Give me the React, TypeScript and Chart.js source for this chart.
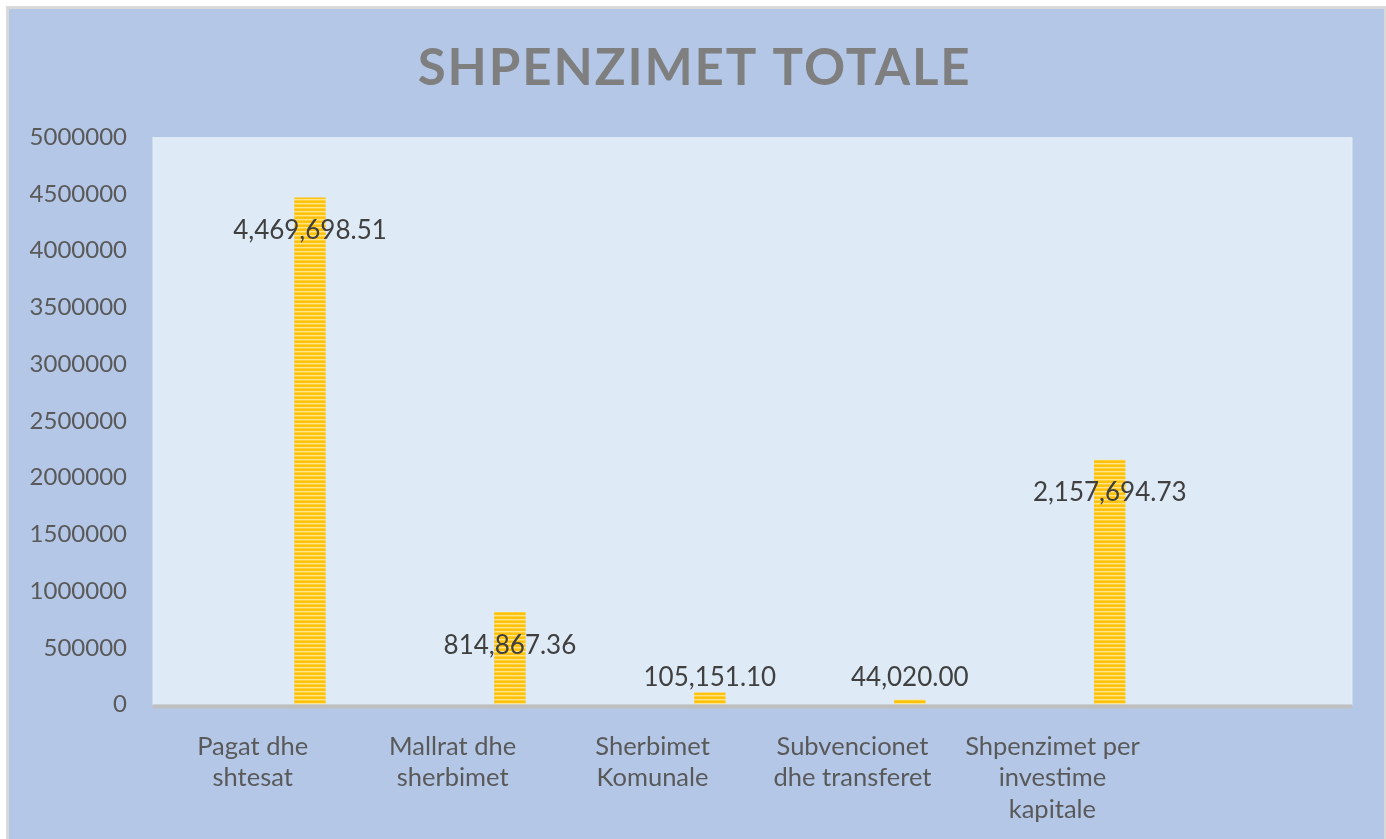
import React, { useEffect, useRef } from 'react';
import { Chart, registerables } from 'chart.js';

Chart.register(...registerables);

const chartTitle = 'SHPENZIMET TOTALE';
const categories: (string | string[])[] = [
  ['Pagat dhe', 'shtesat'],
  ['Mallrat dhe', 'sherbimet'],
  ['Sherbimet', 'Komunale'],
  ['Subvencionet', 'dhe transferet'],
  ['Shpenzimet per', 'investime', 'kapitale'],
  '',
];
const totals: (number | null)[] = [4469698.51, 814867.36, 105151.1, 44020.0, 2157694.73, null];
const emptySeries: (number | null)[] = [null, null, null, null, null, null];
const yMin = 0;
const yMax = 5000000;
const yStep = 500000;

const FONT = 'Lato, "Open Sans", sans-serif';

function makePattern(): CanvasPattern | string {
  const pc = document.createElement('canvas');
  pc.width = 4;
  pc.height = 4;
  const c = pc.getContext('2d');
  if (!c) return '#FFC000';
  const rows = ['#FFC000', '#FFC40F', '#FFE38C', '#FFD040'];
  rows.forEach((col, i) => {
    c.fillStyle = col;
    c.fillRect(0, i, 4, 1);
  });
  const p = c.createPattern(pc, 'repeat');
  return p || '#FFC000';
}

const plotBackground = {
  id: 'plotBackground',
  beforeDatasetsDraw(chart: any) {
    const { ctx, chartArea } = chart;
    ctx.save();
    ctx.fillStyle = '#DEEAF6';
    ctx.fillRect(chartArea.left, chartArea.top, chartArea.right - chartArea.left, chartArea.bottom - chartArea.top);
    ctx.strokeStyle = '#E3EDF8';
    ctx.lineWidth = 1;
    ctx.strokeRect(chartArea.left + 0.5, chartArea.top + 0.5, chartArea.right - chartArea.left - 1, chartArea.bottom - chartArea.top);
    ctx.restore();
  },
  afterDatasetsDraw(chart: any) {
    const { ctx, chartArea } = chart;
    ctx.save();
    ctx.fillStyle = '#BFBFBF';
    ctx.fillRect(chartArea.left, chartArea.bottom, chartArea.right - chartArea.left, 4);
    ctx.restore();
  },
};

const valueLabels = {
  id: 'valueLabels',
  afterDatasetsDraw(chart: any) {
    const { ctx, chartArea } = chart;
    const meta = chart.getDatasetMeta(2);
    const ds = chart.data.datasets[2].data as (number | null)[];
    ctx.save();
    ctx.font = `26px ${FONT}`;
    ctx.fillStyle = '#404040';
    ctx.textAlign = 'center';
    ctx.textBaseline = 'alphabetic';
    meta.data.forEach((bar: any, i: number) => {
      const v = ds[i];
      if (v === null || v === undefined) return;
      const txt = v.toLocaleString('en-US', { minimumFractionDigits: 2, maximumFractionDigits: 2 });
      const y = Math.min(bar.y + 41.5, chartArea.bottom - 18.5);
      ctx.fillText(txt, bar.x, y);
    });
    ctx.restore();
  },
};

const titleDraw = {
  id: 'titleDraw',
  afterDraw(chart: any) {
    const { ctx } = chart;
    ctx.save();
    ctx.font = `bold 51px ${FONT}`;
    ctx.fillStyle = '#7F7F7F';
    ctx.textAlign = 'left';
    ctx.textBaseline = 'alphabetic';
    (ctx as any).letterSpacing = '0px';
    const w = ctx.measureText(chartTitle).width;
    const sp = (552 - w) / (chartTitle.length - 1);
    (ctx as any).letterSpacing = `${sp}px`;
    ctx.fillText(chartTitle, 408.7, 76);
    ctx.restore();
  },
};

export default function App() {
  const ref = useRef<HTMLCanvasElement | null>(null);

  useEffect(() => {
    if (!ref.current) return;
    const pattern = makePattern();
    const chart = new Chart(ref.current, {
      type: 'bar',
      data: {
        labels: categories,
        datasets: [
          { label: 'a', data: emptySeries },
          { label: 'b', data: emptySeries },
          { label: 'Shpenzimet totale', data: totals, backgroundColor: pattern as any, borderWidth: 0 },
        ],
      },
      options: {
        animation: false,
        responsive: false,
        devicePixelRatio: 1,
        datasets: {
          bar: { categoryPercentage: 0.86, barPercentage: 0.548 },
        },
        layout: { padding: { top: 128.3, right: 31.7, left: 0, bottom: 0 } },
        plugins: {
          legend: { display: false },
          title: { display: false },
          tooltip: { enabled: false },
        },
        scales: {
          x: {
            grid: { display: false, drawTicks: false },
            border: { display: false },
            ticks: {
              font: { family: FONT, size: 25.5, lineHeight: 1.24 },
              color: '#595959',
              padding: 26,
              maxRotation: 0,
              autoSkip: false,
            },
            afterFit(scale: any) {
              scale.height = 134.5;
            },
          },
          y: {
            min: yMin,
            max: yMax,
            grid: { display: false, drawTicks: false },
            border: { display: false },
            ticks: {
              stepSize: yStep,
              font: { family: FONT, size: 24 },
              color: '#595959',
              padding: 25.7,
              callback: (v: any) => String(v),
            },
            afterFit(scale: any) {
              scale.width = 143.7;
            },
          },
        },
      },
      plugins: [plotBackground, valueLabels, titleDraw],
    });
    return () => chart.destroy();
  }, []);

  return (
    <div
      style={{
        position: 'fixed',
        left: 6,
        top: 6,
        width: 1380,
        height: 833,
        boxSizing: 'border-box',
        borderLeft: '3px solid #D9D9D9',
        borderTop: '3px solid #D9D9D9',
        borderRight: '2px solid #D9D9D9',
        background: '#B4C7E7',
        overflow: 'hidden',
      }}
    >
      <canvas ref={ref} width={1375} height={830} style={{ display: 'block', width: 1375, height: 830 }} />
    </div>
  );
}
